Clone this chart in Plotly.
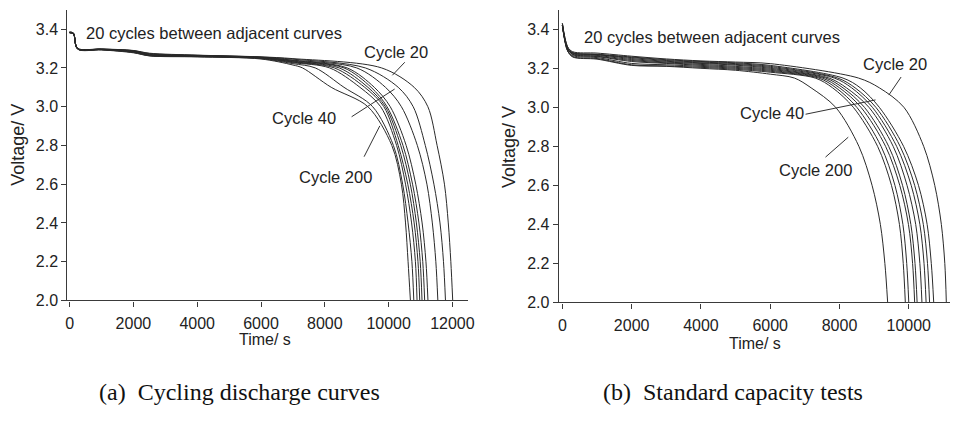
import plotly.graph_objects as go

# ---------------- data ----------------
cycles = [20, 40, 60, 80, 100, 120, 140, 160, 180, 200]

# Panel (a): cycling discharge curves
a_plateau_t = [0, 120, 250, 1000, 2000, 2500, 4000, 6000, 7000]
a_plateau_v = [
    [3.385, 3.380, 3.302, 3.298, 3.290, 3.276, 3.266, 3.257, 3.248],
    [3.385, 3.380, 3.301, 3.297, 3.289, 3.274, 3.265, 3.256, 3.245],
    [3.384, 3.379, 3.300, 3.297, 3.288, 3.272, 3.264, 3.255, 3.240],
    [3.384, 3.379, 3.300, 3.296, 3.287, 3.270, 3.263, 3.254, 3.238],
    [3.383, 3.378, 3.300, 3.296, 3.286, 3.268, 3.262, 3.253, 3.235],
    [3.383, 3.378, 3.299, 3.295, 3.284, 3.266, 3.261, 3.252, 3.232],
    [3.382, 3.377, 3.299, 3.295, 3.283, 3.265, 3.260, 3.251, 3.230],
    [3.382, 3.377, 3.298, 3.294, 3.281, 3.264, 3.259, 3.250, 3.227],
    [3.381, 3.376, 3.298, 3.294, 3.280, 3.263, 3.258, 3.248, 3.222],
    [3.381, 3.376, 3.297, 3.293, 3.278, 3.262, 3.257, 3.246, 3.215],
]
a_knee_v = [3.2, 3.1, 3.0, 2.8, 2.6, 2.4, 2.2, 2.0]
a_knee_t = [
    [9780, 10800, 11230, 11520, 11750, 11870, 11950, 12009],
    [9270, 10300, 10770, 11150, 11420, 11610, 11720, 11782],
    [9000, 9900, 10400, 10900, 11200, 11370, 11480, 11543],
    [8700, 9550, 10050, 10550, 10850, 11050, 11170, 11233],
    [8600, 9450, 9950, 10450, 10750, 10950, 11070, 11130],
    [8450, 9350, 9900, 10380, 10680, 10870, 10990, 11047],
    [8300, 9250, 9850, 10300, 10600, 10800, 10920, 10975],
    [8150, 9100, 9750, 10250, 10530, 10720, 10840, 10891],
    [7700, 8600, 9500, 10150, 10440, 10610, 10730, 10789],
    [7300, 8200, 9350, 10100, 10400, 10530, 10610, 10683],
]

# Panel (b): standard capacity tests
b_plateau_t = [0, 150, 300, 1000, 2000, 3000, 4000, 5000, 6000]
b_plateau_v = [
    [3.430, 3.310, 3.285, 3.278, 3.262, 3.248, 3.238, 3.232, 3.224],
    [3.430, 3.310, 3.280, 3.272, 3.258, 3.244, 3.235, 3.228, 3.215],
    [3.430, 3.300, 3.280, 3.270, 3.255, 3.240, 3.232, 3.224, 3.210],
    [3.420, 3.300, 3.278, 3.270, 3.250, 3.236, 3.228, 3.220, 3.205],
    [3.420, 3.300, 3.275, 3.266, 3.245, 3.232, 3.225, 3.216, 3.200],
    [3.420, 3.300, 3.272, 3.262, 3.240, 3.228, 3.220, 3.210, 3.195],
    [3.420, 3.300, 3.270, 3.260, 3.235, 3.225, 3.215, 3.205, 3.190],
    [3.420, 3.290, 3.265, 3.255, 3.225, 3.218, 3.210, 3.200, 3.185],
    [3.420, 3.290, 3.260, 3.250, 3.218, 3.212, 3.205, 3.195, 3.180],
    [3.420, 3.290, 3.258, 3.247, 3.215, 3.210, 3.200, 3.190, 3.170],
]
b_knee_v = [3.15, 3.1, 3.0, 2.8, 2.6, 2.4, 2.2, 2.0]
b_knee_t = [
    [8550, 9150, 9860, 10430, 10750, 10940, 11040, 11084],
    [8100, 8600, 9150, 9850, 10280, 10530, 10650, 10720],
    [7950, 8450, 9050, 9750, 10170, 10420, 10540, 10600],
    [7850, 8350, 8950, 9650, 10070, 10320, 10440, 10500],
    [7700, 8200, 8850, 9550, 9950, 10200, 10320, 10380],
    [7600, 8100, 8720, 9420, 9820, 10060, 10180, 10240],
    [7500, 8000, 8620, 9330, 9740, 9990, 10110, 10170],
    [7400, 7900, 8500, 9200, 9600, 9830, 9940, 10000],
    [7300, 7800, 8400, 9100, 9500, 9730, 9840, 9900],
    [6700, 7180, 7890, 8560, 8940, 9180, 9310, 9390],
]

a_xticks = [0, 2000, 4000, 6000, 8000, 10000, 12000]
b_xticks = [0, 2000, 4000, 6000, 8000, 10000]
yticks = [2.0, 2.2, 2.4, 2.6, 2.8, 3.0, 3.2, 3.4]

# labels: (text, x, y, anchor) and pointer lines (tail x, tail y, head x, head y)
a_labels = [("20 cycles between adjacent curves", 457, 3.379, "left"),
            ("Cycle 20", 10240, 3.281, "center"),
            ("Cycle 40", 7351, 2.943, "center"),
            ("Cycle 200", 8345, 2.636, "center")]
a_pointers = [(10551, 3.237, 10117, 3.162),
              (8793, 2.943, 10189, 3.091),
              (9207, 2.734, 9724, 2.901)]
b_labels = [("20 cycles between adjacent curves", 576, 3.363, "left"),
            ("Cycle 20", 9616, 3.222, "center"),
            ("Cycle 40", 6046, 2.972, "center"),
            ("Cycle 200", 7313, 2.680, "center")]
b_pointers = [(9808, 3.163, 9424, 3.063),
              (6977, 2.963, 9040, 3.038),
              (7553, 2.738, 8253, 2.847)]

# ---------------- figure ----------------
W, H = 957, 422
LINE = "#2a2a2a"
SANS = "Liberation Sans, Arial, sans-serif"
SERIF = "Liberation Serif, Times New Roman, serif"

fig = go.Figure()

for i, c in enumerate(cycles):
    fig.add_trace(go.Scatter(
        x=a_plateau_t + a_knee_t[i], y=a_plateau_v[i] + a_knee_v,
        mode="lines", line=dict(color=LINE, width=1, shape="spline", smoothing=0.9),
        xaxis="x", yaxis="y", showlegend=False, name=f"Cycle {c}"))
    fig.add_trace(go.Scatter(
        x=b_plateau_t + b_knee_t[i], y=b_plateau_v[i] + b_knee_v,
        mode="lines", line=dict(color=LINE, width=1, shape="spline", smoothing=0.9),
        xaxis="x2", yaxis="y2", showlegend=False, name=f"Cycle {c}"))


def px_x(p):
    return p / W


def px_y(p):
    return 1 - p / H


axis_common = dict(showline=True, linecolor="#3a3a3a", linewidth=1.2, ticks="outside",
                   ticklen=5, tickcolor="#3a3a3a", tickwidth=1.2, showgrid=False,
                   zeroline=False, tickfont=dict(family=SANS, size=16, color="#222"))

fig.update_layout(
    width=W, height=H, margin=dict(l=0, r=0, t=0, b=0),
    paper_bgcolor="white", plot_bgcolor="white",
    xaxis=dict(domain=[px_x(66), px_x(470)], range=[-70, 12475], tickvals=a_xticks,
               tickformat="d", ticklabelstandoff=3, anchor="y", **axis_common),
    yaxis=dict(domain=[px_y(307), px_y(10)], range=[2.0, 3.5], tickvals=yticks,
               tickformat=".1f", anchor="x", **axis_common),
    xaxis2=dict(domain=[px_x(562), px_x(957)], range=[-106, 11190], tickvals=b_xticks,
                tickformat="d", ticklabelstandoff=3, anchor="y2", **axis_common),
    yaxis2=dict(domain=[px_y(309), px_y(10)], range=[2.0, 3.5], tickvals=yticks,
                tickformat=".1f", anchor="x2", **axis_common),
)

ann = []
for (labels, pointers, xr, yr) in [(a_labels, a_pointers, "x", "y"),
                                   (b_labels, b_pointers, "x2", "y2")]:
    for text, x, y, anc in labels:
        ann.append(dict(text=text, x=x, y=y, xref=xr, yref=yr, xanchor=anc,
                        yanchor="middle", showarrow=False,
                        font=dict(family=SANS, size=16.5, color="#222")))
    for tx, ty, hx, hy in pointers:
        ann.append(dict(text="", x=hx, y=hy, ax=tx, ay=ty, xref=xr, yref=yr,
                        axref=xr, ayref=yr, showarrow=True, arrowhead=0,
                        arrowwidth=1, arrowcolor="#333", standoff=0, startstandoff=0))

# axis titles
for x, y in [(16, 148), (512, 150)]:
    ann.append(dict(text="Voltage/ V", x=px_x(x), y=px_y(y), xref="paper", yref="paper",
                    textangle=-90, showarrow=False, xanchor="center", yanchor="middle",
                    font=dict(family=SANS, size=18, color="#222")))
for x, y in [(266, 347), (760, 351)]:
    ann.append(dict(text="Time/ s", x=px_x(x), y=px_y(y), xref="paper", yref="paper",
                    showarrow=False, xanchor="center", yanchor="middle",
                    font=dict(family=SANS, size=16, color="#222")))
# captions
for text, x in [("(a)\u00a0 Cycling discharge curves", 240), ("(b)\u00a0 Standard capacity tests", 738)]:
    ann.append(dict(text=text, x=px_x(x), y=px_y(401), xref="paper", yref="paper",
                    showarrow=False, xanchor="center", yanchor="middle",
                    font=dict(family=SERIF, size=24, color="#111")))

fig.update_layout(annotations=ann)
fig.write_html("out.html")
